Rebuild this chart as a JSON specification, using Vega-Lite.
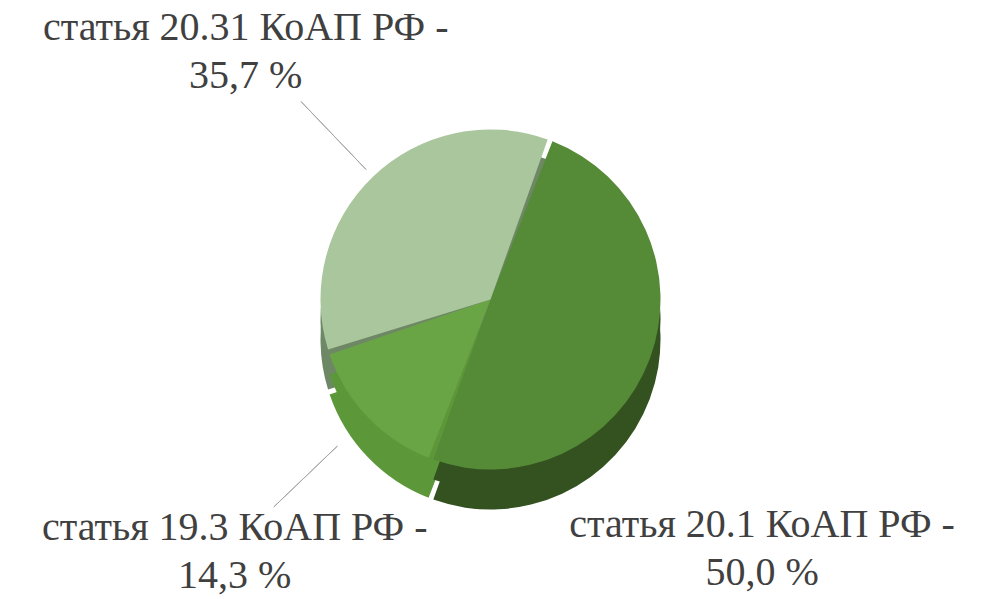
{
  "$schema": "https://vega.github.io/schema/vega-lite/v6.json",
  "width": 981,
  "height": 599,
  "autosize": {"type": "none"},
  "padding": 0,
  "background": "white",
  "config": {"view": {"stroke": null}},
  "data": {
    "values": [
      {"idx": 1, "category": "статья 20.1 КоАП РФ", "share": 50.0},
      {"idx": 2, "category": "статья 19.3 КоАП РФ", "share": 14.3},
      {"idx": 3, "category": "статья 20.31 КоАП РФ", "share": 35.7}
    ]
  },
  "transform": [
    {"stack": "share", "groupby": [], "sort": [{"field": "idx", "order": "ascending"}], "as": ["start", "end"]},
    {"calculate": "(datum.start + datum.end) / 2", "as": "mid"},
    {"calculate": "datum.category + ' -\\n' + replace(format(datum.share, '.1f'), '.', ',') + ' %'", "as": "label"}
  ],
  "layer": [
    {
      "mark": {"type": "arc", "radius": 170, "padAngle": 0.03, "yOffset": 40},
      "encoding": {
        "theta": {"field": "start", "type": "quantitative", "scale": {"domain": [0, 100], "range": [0.358, 6.6412]}},
        "theta2": {"field": "end"},
        "fill": {"field": "category", "type": "nominal", "legend": null,
          "scale": {"domain": ["статья 20.1 КоАП РФ", "статья 19.3 КоАП РФ", "статья 20.31 КоАП РФ"], "range": ["#33521F", "#5C9739", "#6E8866"]}}
      }
    },
    {
      "mark": {"type": "arc", "radius": 170, "padAngle": 0.03, "yOffset": 20},
      "encoding": {
        "theta": {"field": "start", "type": "quantitative"},
        "theta2": {"field": "end"},
        "fill": {"field": "category", "type": "nominal", "legend": null}
      }
    },
    {
      "mark": {"type": "arc", "radius": 170, "padAngle": 0.03},
      "encoding": {
        "theta": {"field": "start", "type": "quantitative"},
        "theta2": {"field": "end"},
        "color": {"field": "category", "type": "nominal", "legend": null,
          "scale": {"domain": ["статья 20.1 КоАП РФ", "статья 19.3 КоАП РФ", "статья 20.31 КоАП РФ"], "range": ["#558A37", "#6AA545", "#AAC69D"]}}
      }
    },
    {
      "transform": [{"filter": "datum.idx == 3"}],
      "mark": {"type": "arc", "radius": 180, "radius2": 274, "stroke": "#A6A6A6", "strokeWidth": 1, "fill": null},
      "encoding": {
        "theta": {"field": "mid", "type": "quantitative"},
        "theta2": {"field": "mid"}
      }
    },
    {
      "transform": [{"filter": "datum.idx == 2"}],
      "mark": {"type": "arc", "radius": 212, "radius2": 300, "stroke": "#A6A6A6", "strokeWidth": 1, "fill": null},
      "encoding": {
        "theta": {"field": "mid", "type": "quantitative"},
        "theta2": {"field": "mid"}
      }
    },
    {
      "transform": [{"filter": "datum.idx != 1"}],
      "mark": {"type": "text", "radius": 354, "dy": -16, "font": "Liberation Serif", "fontSize": 40, "lineHeight": 48, "lineBreak": "\n", "color": "#404040", "align": "center", "baseline": "middle"},
      "encoding": {
        "theta": {"field": "mid", "type": "quantitative"},
        "text": {"field": "label"}
      }
    },
    {
      "transform": [{"filter": "datum.idx == 1"}],
      "mark": {"type": "text", "radius": 354, "dx": -60, "dy": 101, "font": "Liberation Serif", "fontSize": 40, "lineHeight": 48, "lineBreak": "\n", "color": "#404040", "align": "center", "baseline": "middle"},
      "encoding": {
        "theta": {"field": "mid", "type": "quantitative"},
        "text": {"field": "label"}
      }
    }
  ]
}
